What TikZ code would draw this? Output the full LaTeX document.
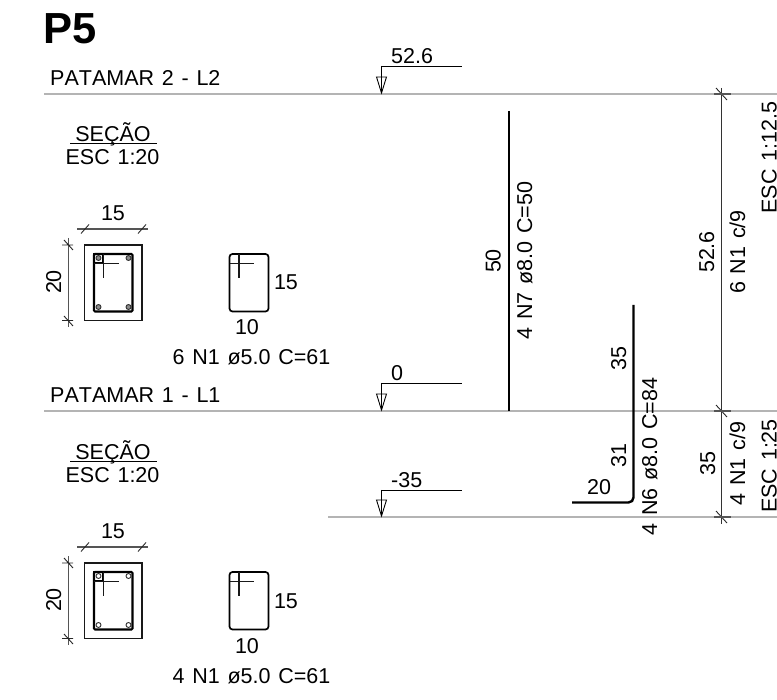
\documentclass[tikz,border=0pt]{standalone}
\usepackage{fontspec}
\setmainfont[Kerning=Off,WordSpace=1.3]{Liberation Sans}
\definecolor{lvl}{HTML}{B4B4B4}
\definecolor{dimc}{HTML}{555555}
\tikzset{
  txt/.style={inner sep=0pt,font=\fontsize{21.5}{21.5}\selectfont,text=black,anchor=base},
  txtl/.style={txt,anchor=base west},
  vtxt/.style={txt,rotate=90},
  level/.style={draw=lvl,line width=1.5pt},
  dimline/.style={draw=dimc,line width=1.1pt},
  thin dim/.style={draw=black!80,line width=1pt},
  tick/.style={draw=black!85,line width=0.9pt},
  bar/.style={draw=black,line width=2.4pt},
  mark line/.style={draw=black,line width=0.9pt},
  stirrup/.style={draw=black,line width=2.1pt,rounded corners=3pt},
  outline/.style={draw=black!90,line width=1.3pt},
  hook/.style={draw=black!90,line width=1.5pt},
  rebar/.style={draw=black!80,line width=0.9pt,circle,minimum size=5pt,inner sep=0pt}
}
\newcommand{\levelmark}[3]{% x, top y, base y
  \draw[mark line] (#1,#2) -- (#1+80,#2);
  \draw[mark line] (#1,#2) -- (#1,#3-2);
  \draw[mark line] (#1-5,#3-17) -- (#1+5,#3-17) -- (#1,#3-1) -- cycle;
}
\newcommand{\sectiondetail}[2]{% y-offset, fill of bars
  \begin{scope}[yshift=-#1pt]
    \draw[outline] (84.5,245) rectangle (142,320.5);
    \draw[stirrup,rounded corners=1pt] (94,254) rectangle (132.5,311.5);
    \draw[stirrup,rounded corners=0pt] (94,254) rectangle (103.3,263.3);
    \draw[hook] (94,263.3) -- (118.5,263.3);
    \draw[hook] (103.3,254) -- (103.3,278);
    \foreach \cx/\cy in {98.5/258,128.5/258,98.5/307,128.5/307}
      \node[rebar,fill=#2] at (\cx,\cy) {};
    \draw[dimline] (77,229) -- (148,229);
    \draw[tick] (81,233.5) -- (89,224.5);
    \draw[tick] (138,233.5) -- (146,224.5);
    \draw[dimline] (68.3,238) -- (68.3,327);
    \draw[tick] (62,245) -- (73,245) (64,240) -- (73,250);
    \draw[tick] (62,320.5) -- (73,320.5) (64,316) -- (73,326);
    \draw[stirrup,line width=1.7pt] (229.5,254) -- (268.5,254) -- (268.5,311.5) -- (229.5,311.5) -- cycle;
    \draw[hook] (229.5,263.3) -- (254,263.3);
    \draw[hook] (238.8,254) -- (238.8,278);
    \node[txt] at (113,221) {15};
    \node[vtxt] at (61,282) {20};
    \node[txt] at (286,290) {15};
    \node[txt] at (247,335) {10};
  \end{scope}
}
\begin{document}
\begin{tikzpicture}[x=1pt,y=-1pt]
\useasboundingbox (0,0) rectangle (777,700);
\clip (0,0) rectangle (777,700);
\node[inner sep=0pt,font=\fontsize{43.5}{43.5}\selectfont\bfseries,anchor=base west] (title) at (43.5,43.5) {P5};
% level lines
\draw[level] (44,94) -- (777,94);
\draw[level] (44,411) -- (777,411);
\draw[level] (328,517) -- (777,517);
\node[txtl] (l2) at (50,85.5) {PATAMAR 2 - L2};
\node[txtl] (l1) at (50,402.5) {PATAMAR 1 - L1};
% level marks
\levelmark{381.5}{66}{94}
\levelmark{381.5}{383}{411}
\levelmark{381.5}{490}{517}
\node[txtl] (m1) at (391,64) {52.6};
\node[txtl] (m2) at (391,381) {0};
\node[txtl] (m3) at (391,488) {-35};
% section titles
\node[txt] (s1) at (113,142) {SEÇÃO};
\draw[draw=black,line width=0.9pt] (70,143.5) -- (157,143.5);
\node[txt] (e1) at (112.5,165) {ESC 1:20};
\node[txt] (s2) at (113,460) {SEÇÃO};
\draw[draw=black,line width=0.9pt] (70,461.5) -- (157,461.5);
\node[txt] (e2) at (112.5,483) {ESC 1:20};
% sections
\sectiondetail{0}{black!45}
\sectiondetail{318}{white}
\node[txt] (n1) at (251.5,365) {6 N1 ø5.0 C=61};
\node[txt] (n2) at (251.5,683) {4 N1 ø5.0 C=61};
% bars
\draw[bar,line cap=butt] (509,111) -- (509,411);
\draw[bar,rounded corners=5pt] (633.5,305) -- (633.5,502.5) -- (572,502.5);
% bar labels
\node[vtxt] (a1) at (500.5,261) {50};
\node[vtxt] (a2) at (532,260.5) {4 N7 ø8.0 C=50};
\node[vtxt] (b1) at (626,358.5) {35};
\node[vtxt] (b2) at (626,455.5) {31};
\node[txt] (b3) at (599,495) {20};
\node[vtxt] (b4) at (657,456.5) {4 N6 ø8.0 C=84};
% running dimension
\draw[thin dim] (721.5,88) -- (721.5,524);
\foreach \ty in {94,411,517}{
  \draw[tick] (716,\ty-6) -- (727,\ty+6);
  \draw[draw=dimc,line width=1.5pt] (714,\ty) -- (731,\ty);
}
\node[vtxt] (d1) at (714,252) {52.6};
\node[vtxt] (d2) at (745,252) {6 N1 c/9};
\node[vtxt] (d3) at (776.5,157.5) {ESC 1:12.5};
\node[vtxt] (d4) at (715,463.5) {35};
\node[vtxt] (d5) at (745,463.5) {4 N1 c/9};
\node[vtxt] (d6) at (776.5,466) {ESC 1:25};
\end{tikzpicture}
\end{document}
